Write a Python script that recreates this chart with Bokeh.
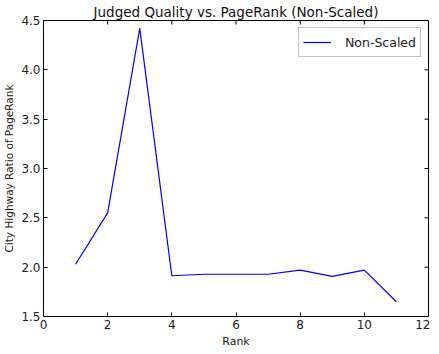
import math
from bokeh.plotting import figure
from bokeh.models import FixedTicker, Range1d, Legend, LegendItem, NumeralTickFormatter
from bokeh.embed import file_html
from bokeh.resources import INLINE

ranks = [1, 2, 3, 4, 5, 6, 7, 8, 9, 10, 11]
ratios = [2.03, 2.55, 4.42, 1.913, 1.928, 1.928, 1.928, 1.97, 1.906, 1.97, 1.65]
series_name = "Non-Scaled"
x_ticks = [0, 2, 4, 6, 8, 10, 12]
y_ticks = [1.5, 2.0, 2.5, 3.0, 3.5, 4.0, 4.5]
x_min, x_max = 0, 12
y_min, y_max = 1.5, 4.5

FONT = "DejaVu Sans"

p = figure(width=423, height=338, output_backend="svg", toolbar_location=None,
           x_range=Range1d(x_min, x_max), y_range=Range1d(y_min, y_max),
           frame_width=385, frame_height=296,
           min_border_left=4, min_border_right=2, min_border_top=2, min_border_bottom=2,
           title="Judged Quality vs. PageRank (Non-Scaled)")
p.title.text_font = FONT
p.title.text_font_size = "13.5px"
p.title.text_font_style = "normal"
p.title.text_color = "#111111"
p.title.align = "center"
p.title.standoff = 2
p.grid.visible = False
p.outline_line_color = "black"
p.outline_line_width = 1
p.background_fill_color = "white"
p.border_fill_color = "white"

r = p.line(ranks, ratios, line_color="#0000ff", line_width=1.2)

# inward ticks on the top and right edges of the frame
p.ray(x=x_ticks, y=[y_max] * len(x_ticks), length=4, length_units="screen",
      angle=-math.pi / 2, line_color="black", line_width=1)
p.ray(x=[x_max] * len(y_ticks), y=y_ticks, length=4, length_units="screen",
      angle=math.pi, line_color="black", line_width=1)

for ax in (p.xaxis[0], p.yaxis[0]):
    ax.major_tick_in = 4
    ax.major_tick_out = 0
    ax.minor_tick_in = 0
    ax.minor_tick_out = 0
    ax.axis_line_color = "black"
    ax.major_label_text_font = FONT
    ax.major_label_text_font_size = "12px"
    ax.major_label_text_color = "#222222"
    ax.axis_label_text_font = FONT
    ax.axis_label_text_font_size = "10.5px"
    ax.axis_label_text_font_style = "normal"
    ax.axis_label_text_color = "#222222"
    ax.major_label_standoff = 3
    ax.axis_label_standoff = 3

p.xaxis[0].ticker = FixedTicker(ticks=x_ticks)
p.yaxis[0].ticker = FixedTicker(ticks=y_ticks)
p.yaxis[0].formatter = NumeralTickFormatter(format="0.0")
p.xaxis[0].axis_label = "Rank"
p.xaxis[0].axis_label_text_font_size = "11px"
p.yaxis[0].axis_label = "City Highway Ratio of PageRank"

legend = Legend(items=[LegendItem(label=series_name, renderers=[r])], location="top_right")
legend.label_text_font = FONT
legend.label_text_font_size = "12.5px"
legend.label_text_color = "#222222"
legend.border_line_color = "#888888"
legend.margin = 7
legend.padding = 4
legend.glyph_width = 28
legend.label_standoff = 14
legend.spacing = 0
p.add_layout(legend, "center")

open("out.html", "w").write(file_html(p, INLINE))
